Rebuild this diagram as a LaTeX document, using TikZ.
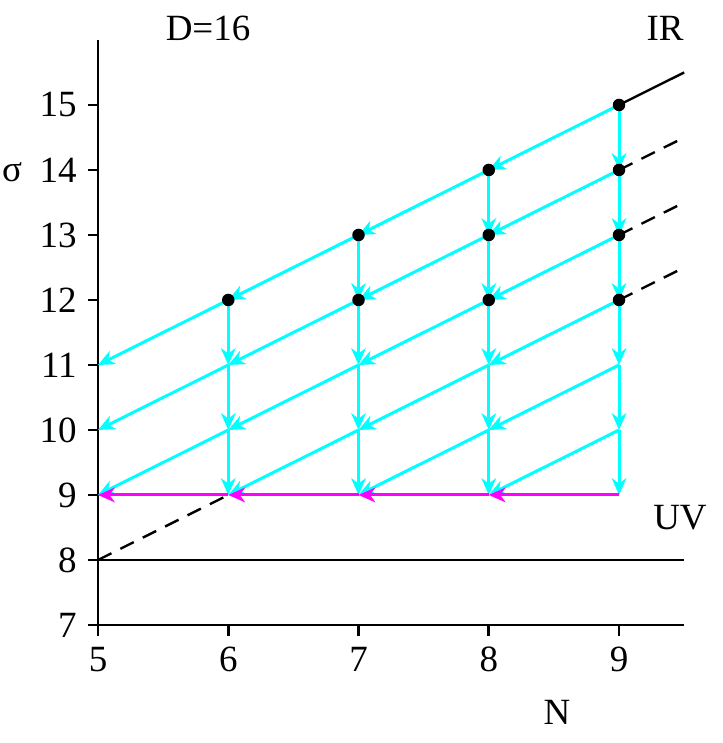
\documentclass[tikz,border=0pt]{standalone}
\usepackage{fontspec}
\setmainfont{Liberation Serif}
\usetikzlibrary{arrows.meta}
\definecolor{flowcyan}{RGB}{0,255,255}
\definecolor{flowmag}{RGB}{255,0,255}
\begin{document}
\begin{tikzpicture}[x=130.25pt,y=65pt,
  flow/.style={color=flowcyan, line width=3pt, -{Stealth[length=17pt,width=15pt,inset=5.5pt,line width=0pt]}},
  uvflow/.style={flow, color=flowmag},
  axisline/.style={line width=2.6pt},
  guide/.style={line width=2.4pt},
  guidedash/.style={guide, dash pattern=on 15pt off 10pt},
  lbl/.style={font=\fontsize{37}{44}\selectfont, inner sep=0pt},
  dotnode/.style={circle, fill=black, inner sep=0pt, minimum size=12.5pt}]
\useasboundingbox (4.2476,5.1846) rectangle (9.7908,16.615);
% grid coordinates
\foreach \n in {5,...,9} {
  \foreach \s in {7,...,16} {
    \coordinate (p\n-\s) at (\n,\s);
  }
}
\coordinate (e15) at (9.5,15.5);
\coordinate (e14) at (9.5,14.5);
\coordinate (e13) at (9.5,13.5);
\coordinate (e12) at (9.5,12.5);
\coordinate (e8) at (9.5,8);
\coordinate (xend) at (9.5,7);
\coordinate (xstart) at (4.923,7);
\coordinate (ytop) at (5,16);
\coordinate (ybot) at (5,6.83);
% axes
\draw[axisline] (xstart) -- (xend);
\draw[axisline] (ybot) -- (ytop);
\foreach \s in {7,...,15} {
  \draw[axisline] (p5-\s) -- ++(-10pt,0) node[lbl, anchor=east, xshift=-10pt] (yl\s) {\s};
}
\foreach \n in {5,...,9} {
  \draw[axisline] (p\n-7) -- ++(0,-11pt) node[lbl, anchor=north, yshift=-10pt] (xl\n) {\n};
}
% guide lines
\draw[guide] (p5-8) -- (e8);
\draw[guide] (p9-15) -- (e15);
\draw[guidedash] (p9-14) -- (e14);
\draw[guidedash] (p9-13) -- (e13);
\draw[guidedash] (p9-12) -- (e12);
\draw[guidedash] (p5-8) -- (p6-9);
% diagonal flows
\foreach \a/\b in {9-15/8-14, 8-14/7-13, 7-13/6-12, 6-12/5-11,
                   9-14/8-13, 8-13/7-12, 7-12/6-11, 6-11/5-10,
                   9-13/8-12, 8-12/7-11, 7-11/6-10, 6-10/5-9,
                   9-12/8-11, 8-11/7-10, 7-10/6-9,
                   9-11/8-10, 8-10/7-9,
                   9-10/8-9} {
  \draw[flow] (p\a) -- (p\b);
}
% vertical flows
\foreach \n/\t in {9/15, 8/14, 7/13, 6/12} {
  \foreach \s in {10,...,\t} {
    \pgfmathtruncatemacro\lo{\s-1}
    \draw[flow] (p\n-\s) -- (p\n-\lo);
  }
}
% UV flow
\foreach \a/\b in {9/8, 8/7, 7/6, 6/5} {
  \draw[uvflow] (p\a-9) -- (p\b-9);
}
% dots
\foreach \p in {9-15, 9-14, 9-13, 9-12, 8-14, 8-13, 8-12, 7-13, 7-12, 6-12} {
  \node[dotnode] (d\p) at (p\p) {};
}
% labels
\node[lbl] (dlab) at (5.845,16.18) {D=16};
\node[lbl] (irlab) at (9.353,16.18) {IR};
\node[lbl] (uvlab) at (9.468,8.646) {UV};
\node[lbl] (nlab) at (8.524,5.66) {N};
\node[lbl] (slab) at (4.34,13.97) {σ};
\end{tikzpicture}
\end{document}
